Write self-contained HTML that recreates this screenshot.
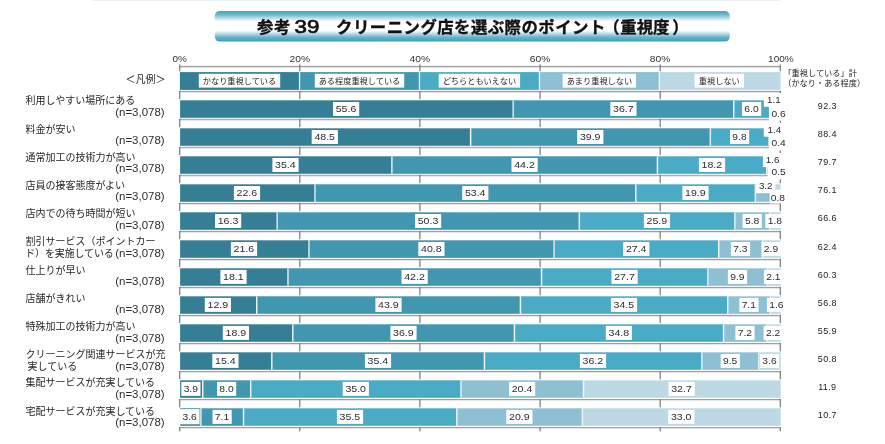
<!DOCTYPE html>
<html lang="ja"><head><meta charset="utf-8"><title>参考39 クリーニング店を選ぶ際のポイント（重視度）</title>
<style>html,body{margin:0;padding:0;background:#fff}body{width:885px;height:444px;overflow:hidden}svg{display:block}text{font-family:'Liberation Sans', 'Noto Sans CJK JP', sans-serif;fill:#222}.lab{font-size:10px;font-weight:400;fill:#262626}.n{font-size:10px;font-weight:400;fill:#2c2c2c}.v{font-size:9.8px;font-weight:400;fill:#2a2a33}.ax{font-size:9.6px;fill:#333}.lg{font-size:8.2px;font-weight:400;fill:#222}.tt{font-size:9px;letter-spacing:.35px;fill:#222}.ti{font-size:16.4px;font-weight:700;fill:#111;stroke:#111;stroke-width:.35px}</style></head><body>
<svg width="885" height="444" viewBox="0 0 885 444">
<defs><linearGradient id="tg" x1="0" y1="0" x2="0" y2="1"><stop offset="0" stop-color="#3fa3bd"/><stop offset="0.12" stop-color="#6bb9cd"/><stop offset="0.34" stop-color="#ffffff"/><stop offset="0.64" stop-color="#ffffff"/><stop offset="0.86" stop-color="#62b4ca"/><stop offset="1" stop-color="#3a9fba"/></linearGradient><pattern id="dots" width="4" height="8" patternUnits="userSpaceOnUse"><rect width="4" height="8" fill="#bcd9e5"/><rect x="1" y="2" width="1" height="1" fill="#b4d3e0"/><rect x="3" y="6" width="1" height="1" fill="#b4d3e0"/></pattern></defs>
<rect width="885" height="444" fill="#fff"/>
<rect x="92" y="0" width="688.3" height="1" fill="#ebeef2"/>
<rect x="214.8" y="11" width="515" height="30.6" rx="5" ry="5" fill="url(#tg)"/>
<text class="ti" x="257.1 273.9" y="32.8">参考</text>
<text class="ti" x="294.6" y="33" style="font-size:17.5px;font-weight:400;stroke-width:.7px" textLength="24.8" lengthAdjust="spacingAndGlyphs">39</text>
<text class="ti" x="336.1 353.0 369.8 386.7 403.5 420.4 437.2 454.1 470.9 487.8 504.6 521.5 538.3 555.2 572.0 588.9 603.3 620.3 636.7 653.1 672.3" y="32.8">クリーニング店を選ぶ際のポイント（重視度）</text>
<text class="ax" x="179.7" y="61.9" text-anchor="middle" textLength="14.4" lengthAdjust="spacingAndGlyphs">0%</text>
<text class="ax" x="299.8" y="61.9" text-anchor="middle" textLength="20.6" lengthAdjust="spacingAndGlyphs">20%</text>
<text class="ax" x="419.9" y="61.9" text-anchor="middle" textLength="20.6" lengthAdjust="spacingAndGlyphs">40%</text>
<text class="ax" x="540.0" y="61.9" text-anchor="middle" textLength="20.6" lengthAdjust="spacingAndGlyphs">60%</text>
<text class="ax" x="660.1" y="61.9" text-anchor="middle" textLength="20.6" lengthAdjust="spacingAndGlyphs">80%</text>
<text class="ax" x="780.9" y="61.9" text-anchor="middle" textLength="25.6" lengthAdjust="spacingAndGlyphs">100%</text>
<rect x="179.1" y="65.9" width="601.8" height="1.1" fill="#9e9e9e"/>
<rect x="179.1" y="67.0" width="601.8" height="0.9" fill="#e4e4e4"/>
<rect x="179.1" y="64.4" width="1.2" height="6.8" fill="#787878"/>
<rect x="299.2" y="64.4" width="1.2" height="6.8" fill="#787878"/>
<rect x="419.3" y="64.4" width="1.2" height="6.8" fill="#787878"/>
<rect x="539.5" y="64.4" width="1.2" height="6.8" fill="#787878"/>
<rect x="659.6" y="64.4" width="1.2" height="6.8" fill="#787878"/>
<rect x="779.7" y="64.4" width="1.2" height="6.8" fill="#787878"/>
<rect x="179.1" y="90.9" width="601.8" height="1.1" fill="#9e9e9e"/>
<rect x="179.1" y="92.0" width="601.8" height="0.9" fill="#e4e4e4"/>
<rect x="179.1" y="90.9" width="1.2" height="8.3" fill="#787878"/>
<rect x="299.2" y="90.9" width="1.2" height="8.3" fill="#787878"/>
<rect x="419.3" y="90.9" width="1.2" height="8.3" fill="#787878"/>
<rect x="539.5" y="90.9" width="1.2" height="8.3" fill="#787878"/>
<rect x="659.6" y="90.9" width="1.2" height="8.3" fill="#787878"/>
<rect x="779.7" y="90.9" width="1.2" height="8.3" fill="#787878"/>
<rect x="179.1" y="118.8" width="601.8" height="1.1" fill="#9e9e9e"/>
<rect x="179.1" y="119.9" width="601.8" height="0.9" fill="#e4e4e4"/>
<rect x="179.1" y="118.8" width="1.2" height="8.3" fill="#787878"/>
<rect x="299.2" y="118.8" width="1.2" height="8.3" fill="#787878"/>
<rect x="419.3" y="118.8" width="1.2" height="8.3" fill="#787878"/>
<rect x="539.5" y="118.8" width="1.2" height="8.3" fill="#787878"/>
<rect x="659.6" y="118.8" width="1.2" height="8.3" fill="#787878"/>
<rect x="779.7" y="118.8" width="1.2" height="8.3" fill="#787878"/>
<rect x="179.1" y="146.8" width="601.8" height="1.1" fill="#9e9e9e"/>
<rect x="179.1" y="147.9" width="601.8" height="0.9" fill="#e4e4e4"/>
<rect x="179.1" y="146.8" width="1.2" height="8.3" fill="#787878"/>
<rect x="299.2" y="146.8" width="1.2" height="8.3" fill="#787878"/>
<rect x="419.3" y="146.8" width="1.2" height="8.3" fill="#787878"/>
<rect x="539.5" y="146.8" width="1.2" height="8.3" fill="#787878"/>
<rect x="659.6" y="146.8" width="1.2" height="8.3" fill="#787878"/>
<rect x="779.7" y="146.8" width="1.2" height="8.3" fill="#787878"/>
<rect x="179.1" y="174.8" width="601.8" height="1.1" fill="#9e9e9e"/>
<rect x="179.1" y="175.9" width="601.8" height="0.9" fill="#e4e4e4"/>
<rect x="179.1" y="174.8" width="1.2" height="8.3" fill="#787878"/>
<rect x="299.2" y="174.8" width="1.2" height="8.3" fill="#787878"/>
<rect x="419.3" y="174.8" width="1.2" height="8.3" fill="#787878"/>
<rect x="539.5" y="174.8" width="1.2" height="8.3" fill="#787878"/>
<rect x="659.6" y="174.8" width="1.2" height="8.3" fill="#787878"/>
<rect x="779.7" y="174.8" width="1.2" height="8.3" fill="#787878"/>
<rect x="179.1" y="202.9" width="601.8" height="1.1" fill="#9e9e9e"/>
<rect x="179.1" y="204.0" width="601.8" height="0.9" fill="#e4e4e4"/>
<rect x="179.1" y="202.9" width="1.2" height="8.3" fill="#787878"/>
<rect x="299.2" y="202.9" width="1.2" height="8.3" fill="#787878"/>
<rect x="419.3" y="202.9" width="1.2" height="8.3" fill="#787878"/>
<rect x="539.5" y="202.9" width="1.2" height="8.3" fill="#787878"/>
<rect x="659.6" y="202.9" width="1.2" height="8.3" fill="#787878"/>
<rect x="779.7" y="202.9" width="1.2" height="8.3" fill="#787878"/>
<rect x="179.1" y="230.9" width="601.8" height="1.1" fill="#9e9e9e"/>
<rect x="179.1" y="232.0" width="601.8" height="0.9" fill="#e4e4e4"/>
<rect x="179.1" y="230.9" width="1.2" height="8.3" fill="#787878"/>
<rect x="299.2" y="230.9" width="1.2" height="8.3" fill="#787878"/>
<rect x="419.3" y="230.9" width="1.2" height="8.3" fill="#787878"/>
<rect x="539.5" y="230.9" width="1.2" height="8.3" fill="#787878"/>
<rect x="659.6" y="230.9" width="1.2" height="8.3" fill="#787878"/>
<rect x="779.7" y="230.9" width="1.2" height="8.3" fill="#787878"/>
<rect x="179.1" y="258.9" width="601.8" height="1.1" fill="#9e9e9e"/>
<rect x="179.1" y="260.0" width="601.8" height="0.9" fill="#e4e4e4"/>
<rect x="179.1" y="258.9" width="1.2" height="8.3" fill="#787878"/>
<rect x="299.2" y="258.9" width="1.2" height="8.3" fill="#787878"/>
<rect x="419.3" y="258.9" width="1.2" height="8.3" fill="#787878"/>
<rect x="539.5" y="258.9" width="1.2" height="8.3" fill="#787878"/>
<rect x="659.6" y="258.9" width="1.2" height="8.3" fill="#787878"/>
<rect x="779.7" y="258.9" width="1.2" height="8.3" fill="#787878"/>
<rect x="179.1" y="286.9" width="601.8" height="1.1" fill="#9e9e9e"/>
<rect x="179.1" y="288.0" width="601.8" height="0.9" fill="#e4e4e4"/>
<rect x="179.1" y="286.9" width="1.2" height="8.3" fill="#787878"/>
<rect x="299.2" y="286.9" width="1.2" height="8.3" fill="#787878"/>
<rect x="419.3" y="286.9" width="1.2" height="8.3" fill="#787878"/>
<rect x="539.5" y="286.9" width="1.2" height="8.3" fill="#787878"/>
<rect x="659.6" y="286.9" width="1.2" height="8.3" fill="#787878"/>
<rect x="779.7" y="286.9" width="1.2" height="8.3" fill="#787878"/>
<rect x="179.1" y="314.9" width="601.8" height="1.1" fill="#9e9e9e"/>
<rect x="179.1" y="316.0" width="601.8" height="0.9" fill="#e4e4e4"/>
<rect x="179.1" y="314.9" width="1.2" height="8.3" fill="#787878"/>
<rect x="299.2" y="314.9" width="1.2" height="8.3" fill="#787878"/>
<rect x="419.3" y="314.9" width="1.2" height="8.3" fill="#787878"/>
<rect x="539.5" y="314.9" width="1.2" height="8.3" fill="#787878"/>
<rect x="659.6" y="314.9" width="1.2" height="8.3" fill="#787878"/>
<rect x="779.7" y="314.9" width="1.2" height="8.3" fill="#787878"/>
<rect x="179.1" y="343.0" width="601.8" height="1.1" fill="#9e9e9e"/>
<rect x="179.1" y="344.1" width="601.8" height="0.9" fill="#e4e4e4"/>
<rect x="179.1" y="343.0" width="1.2" height="8.3" fill="#787878"/>
<rect x="299.2" y="343.0" width="1.2" height="8.3" fill="#787878"/>
<rect x="419.3" y="343.0" width="1.2" height="8.3" fill="#787878"/>
<rect x="539.5" y="343.0" width="1.2" height="8.3" fill="#787878"/>
<rect x="659.6" y="343.0" width="1.2" height="8.3" fill="#787878"/>
<rect x="779.7" y="343.0" width="1.2" height="8.3" fill="#787878"/>
<rect x="179.1" y="371.0" width="601.8" height="1.1" fill="#9e9e9e"/>
<rect x="179.1" y="372.1" width="601.8" height="0.9" fill="#e4e4e4"/>
<rect x="179.1" y="371.0" width="1.2" height="8.3" fill="#787878"/>
<rect x="299.2" y="371.0" width="1.2" height="8.3" fill="#787878"/>
<rect x="419.3" y="371.0" width="1.2" height="8.3" fill="#787878"/>
<rect x="539.5" y="371.0" width="1.2" height="8.3" fill="#787878"/>
<rect x="659.6" y="371.0" width="1.2" height="8.3" fill="#787878"/>
<rect x="779.7" y="371.0" width="1.2" height="8.3" fill="#787878"/>
<rect x="179.1" y="399.0" width="601.8" height="1.1" fill="#9e9e9e"/>
<rect x="179.1" y="400.1" width="601.8" height="0.9" fill="#e4e4e4"/>
<rect x="179.1" y="399.0" width="1.2" height="8.3" fill="#787878"/>
<rect x="299.2" y="399.0" width="1.2" height="8.3" fill="#787878"/>
<rect x="419.3" y="399.0" width="1.2" height="8.3" fill="#787878"/>
<rect x="539.5" y="399.0" width="1.2" height="8.3" fill="#787878"/>
<rect x="659.6" y="399.0" width="1.2" height="8.3" fill="#787878"/>
<rect x="779.7" y="399.0" width="1.2" height="8.3" fill="#787878"/>
<rect x="179.1" y="427.0" width="601.8" height="1.1" fill="#9e9e9e"/>
<rect x="179.1" y="428.1" width="601.8" height="0.9" fill="#e4e4e4"/>
<rect x="179.1" y="427.0" width="1.2" height="4.3" fill="#787878"/>
<rect x="299.2" y="427.0" width="1.2" height="4.3" fill="#787878"/>
<rect x="419.3" y="427.0" width="1.2" height="4.3" fill="#787878"/>
<rect x="539.5" y="427.0" width="1.2" height="4.3" fill="#787878"/>
<rect x="659.6" y="427.0" width="1.2" height="4.3" fill="#787878"/>
<rect x="779.7" y="427.0" width="1.2" height="4.3" fill="#787878"/>
<text class="lab" x="165.6" y="82.6" text-anchor="end">＜凡例＞</text>
<rect x="179.9" y="72.1" width="120.9" height="17.8" fill="#357f96"/>
<rect x="198.8" y="73.8" width="81.4" height="13.8" fill="#fff"/>
<text class="lg" x="239.5" y="83.7" text-anchor="middle">かなり重視している</text>
<rect x="299.9" y="72.1" width="120.9" height="17.8" fill="#4196b0"/>
<rect x="298.9" y="72.1" width="1.3" height="17.8" fill="#f1f8fa"/>
<rect x="314.8" y="73.8" width="89.4" height="13.8" fill="#fff"/>
<text class="lg" x="359.5" y="83.7" text-anchor="middle">ある程度重視している</text>
<rect x="419.8" y="72.1" width="120.9" height="17.8" fill="#4aabc7"/>
<rect x="418.8" y="72.1" width="1.3" height="17.8" fill="#f1f8fa"/>
<rect x="438.7" y="73.8" width="81.4" height="13.8" fill="#fff"/>
<text class="lg" x="479.4" y="83.7" text-anchor="middle">どちらともいえない</text>
<rect x="539.8" y="72.1" width="120.9" height="17.8" fill="#8ec0d4"/>
<rect x="538.8" y="72.1" width="1.3" height="17.8" fill="#f1f8fa"/>
<rect x="562.6" y="73.8" width="73.4" height="13.8" fill="#fff"/>
<text class="lg" x="599.4" y="83.7" text-anchor="middle">あまり重視しない</text>
<rect x="659.7" y="72.1" width="120.9" height="17.8" fill="url(#dots)"/>
<rect x="658.7" y="72.1" width="1.3" height="17.8" fill="#f1f8fa"/>
<rect x="694.6" y="73.8" width="49.4" height="13.8" fill="#fff"/>
<text class="lg" x="719.3" y="83.7" text-anchor="middle">重視しない</text>
<text class="lg" x="783.4" y="76.2">「重視している」計</text>
<text class="lg" x="783.2" y="86.1">（かなり・ある程度）</text>
<text class="lab" x="25.4" y="104.3">利用しやすい場所にある</text>
<text class="n" x="164.6" y="115.8" text-anchor="end" textLength="49.4" lengthAdjust="spacingAndGlyphs">(n=3,078)</text>
<rect x="180.1" y="100.3" width="334.0" height="17.5" fill="#357f96"/>
<rect x="514.0" y="100.3" width="220.5" height="17.5" fill="#4196b0"/>
<rect x="734.5" y="100.3" width="36.0" height="17.5" fill="#4aabc7"/>
<rect x="770.5" y="100.3" width="6.6" height="17.5" fill="#8ec0d4"/>
<rect x="777.1" y="100.3" width="3.6" height="17.5" fill="url(#dots)"/>
<rect x="512.5" y="100.3" width="1.3" height="17.5" fill="#f1f8fa"/>
<rect x="733.0" y="100.3" width="1.3" height="17.5" fill="#f1f8fa"/>
<rect x="769.0" y="100.3" width="1.3" height="17.5" fill="#f1f8fa"/>
<rect x="775.6" y="100.3" width="1.3" height="17.5" fill="#f1f8fa"/>
<rect x="333.0" y="102.0" width="26.2" height="14.0" fill="#fff"/>
<text class="v" x="346.0" y="112.1" text-anchor="middle" textLength="20.6" lengthAdjust="spacingAndGlyphs">55.6</text>
<rect x="610.3" y="102.0" width="26.2" height="14.0" fill="#fff"/>
<text class="v" x="623.3" y="112.1" text-anchor="middle" textLength="20.6" lengthAdjust="spacingAndGlyphs">36.7</text>
<rect x="742.0" y="102.0" width="19.2" height="14.0" fill="#fff"/>
<text class="v" x="751.5" y="112.1" text-anchor="middle" textLength="14.3" lengthAdjust="spacingAndGlyphs">6.0</text>
<rect x="768.9" y="105.4" width="20.1" height="15.2" fill="#fff"/>
<rect x="763.9" y="93.0" width="19.1" height="13.8" fill="#fff"/>
<text class="v" x="767.0" y="103.1" textLength="13.6" lengthAdjust="spacingAndGlyphs">1.1</text>
<text class="v" x="771.4" y="117.0" textLength="14.2" lengthAdjust="spacingAndGlyphs">0.6</text>
<text class="tt" x="827.3" y="109.0" text-anchor="middle">92.3</text>
<text class="lab" x="25.4" y="132.5">料金が安い</text>
<text class="n" x="164.6" y="144.0" text-anchor="end" textLength="49.4" lengthAdjust="spacingAndGlyphs">(n=3,078)</text>
<rect x="180.1" y="128.3" width="291.3" height="17.5" fill="#357f96"/>
<rect x="471.4" y="128.3" width="239.7" height="17.5" fill="#4196b0"/>
<rect x="711.1" y="128.3" width="58.9" height="17.5" fill="#4aabc7"/>
<rect x="769.9" y="128.3" width="8.4" height="17.5" fill="#8ec0d4"/>
<rect x="778.3" y="128.3" width="2.4" height="17.5" fill="url(#dots)"/>
<rect x="469.9" y="128.3" width="1.3" height="17.5" fill="#f1f8fa"/>
<rect x="709.6" y="128.3" width="1.3" height="17.5" fill="#f1f8fa"/>
<rect x="768.4" y="128.3" width="1.3" height="17.5" fill="#f1f8fa"/>
<rect x="776.8" y="128.3" width="1.3" height="17.5" fill="#f1f8fa"/>
<rect x="311.7" y="130.0" width="26.2" height="14.0" fill="#fff"/>
<text class="v" x="324.7" y="140.2" text-anchor="middle" textLength="20.6" lengthAdjust="spacingAndGlyphs">48.5</text>
<rect x="577.2" y="130.0" width="26.2" height="14.0" fill="#fff"/>
<text class="v" x="590.2" y="140.2" text-anchor="middle" textLength="20.6" lengthAdjust="spacingAndGlyphs">39.9</text>
<rect x="730.0" y="130.0" width="19.2" height="14.0" fill="#fff"/>
<text class="v" x="739.5" y="140.2" text-anchor="middle" textLength="14.3" lengthAdjust="spacingAndGlyphs">9.8</text>
<rect x="768.9" y="135.3" width="20.1" height="15.1" fill="#fff"/>
<rect x="763.8" y="123.0" width="19.2" height="13.7" fill="#fff"/>
<text class="v" x="767.5" y="133.1" textLength="13.6" lengthAdjust="spacingAndGlyphs">1.4</text>
<text class="v" x="771.6" y="146.0" textLength="14.2" lengthAdjust="spacingAndGlyphs">0.4</text>
<text class="tt" x="827.3" y="137.1" text-anchor="middle">88.4</text>
<text class="lab" x="25.4" y="160.7">通常加工の技術力が高い</text>
<text class="n" x="164.6" y="172.2" text-anchor="end" textLength="49.4" lengthAdjust="spacingAndGlyphs">(n=3,078)</text>
<rect x="180.1" y="156.3" width="212.6" height="17.5" fill="#357f96"/>
<rect x="392.7" y="156.3" width="265.5" height="17.5" fill="#4196b0"/>
<rect x="658.2" y="156.3" width="109.3" height="17.5" fill="#4aabc7"/>
<rect x="767.5" y="156.3" width="9.6" height="17.5" fill="#8ec0d4"/>
<rect x="777.1" y="156.3" width="3.6" height="17.5" fill="url(#dots)"/>
<rect x="391.2" y="156.3" width="1.3" height="17.5" fill="#f1f8fa"/>
<rect x="656.7" y="156.3" width="1.3" height="17.5" fill="#f1f8fa"/>
<rect x="766.0" y="156.3" width="1.3" height="17.5" fill="#f1f8fa"/>
<rect x="775.6" y="156.3" width="1.3" height="17.5" fill="#f1f8fa"/>
<rect x="272.4" y="158.0" width="26.2" height="14.0" fill="#fff"/>
<text class="v" x="285.4" y="168.2" text-anchor="middle" textLength="20.6" lengthAdjust="spacingAndGlyphs">35.4</text>
<rect x="511.5" y="158.0" width="26.2" height="14.0" fill="#fff"/>
<text class="v" x="524.5" y="168.2" text-anchor="middle" textLength="20.6" lengthAdjust="spacingAndGlyphs">44.2</text>
<rect x="698.9" y="158.0" width="26.2" height="14.0" fill="#fff"/>
<text class="v" x="711.9" y="168.2" text-anchor="middle" textLength="20.6" lengthAdjust="spacingAndGlyphs">18.2</text>
<rect x="767.6" y="165.7" width="21.4" height="13.7" fill="#fff"/>
<rect x="762.9" y="153.0" width="20.1" height="14.1" fill="#fff"/>
<text class="v" x="765.8" y="163.2" textLength="13.6" lengthAdjust="spacingAndGlyphs">1.6</text>
<text class="v" x="771.6" y="174.9" textLength="14.2" lengthAdjust="spacingAndGlyphs">0.5</text>
<text class="tt" x="827.3" y="165.2" text-anchor="middle">79.7</text>
<text class="lab" x="25.4" y="188.9">店員の接客態度がよい</text>
<text class="n" x="164.6" y="200.4" text-anchor="end" textLength="49.4" lengthAdjust="spacingAndGlyphs">(n=3,078)</text>
<rect x="180.1" y="184.3" width="135.8" height="17.5" fill="#357f96"/>
<rect x="315.8" y="184.3" width="320.8" height="17.5" fill="#4196b0"/>
<rect x="636.6" y="184.3" width="119.5" height="17.5" fill="#4aabc7"/>
<rect x="756.1" y="184.3" width="19.2" height="17.5" fill="#8ec0d4"/>
<rect x="775.3" y="184.3" width="5.4" height="17.5" fill="url(#dots)"/>
<rect x="314.3" y="184.3" width="1.3" height="17.5" fill="#f1f8fa"/>
<rect x="635.1" y="184.3" width="1.3" height="17.5" fill="#f1f8fa"/>
<rect x="754.6" y="184.3" width="1.3" height="17.5" fill="#f1f8fa"/>
<rect x="773.8" y="184.3" width="1.3" height="17.5" fill="#f1f8fa"/>
<rect x="233.9" y="186.0" width="26.2" height="14.0" fill="#fff"/>
<text class="v" x="246.9" y="196.2" text-anchor="middle" textLength="20.6" lengthAdjust="spacingAndGlyphs">22.6</text>
<rect x="462.2" y="186.0" width="26.2" height="14.0" fill="#fff"/>
<text class="v" x="475.2" y="196.2" text-anchor="middle" textLength="20.6" lengthAdjust="spacingAndGlyphs">53.4</text>
<rect x="682.4" y="186.0" width="26.2" height="14.0" fill="#fff"/>
<text class="v" x="695.4" y="196.2" text-anchor="middle" textLength="20.6" lengthAdjust="spacingAndGlyphs">19.9</text>
<rect x="769.7" y="189.5" width="19.3" height="14.0" fill="#fff"/>
<rect x="756.0" y="179.6" width="19.3" height="13.6" fill="#fff"/>
<text class="v" x="758.9" y="189.3" textLength="13.6" lengthAdjust="spacingAndGlyphs">3.2</text>
<text class="v" x="770.8" y="200.6" textLength="14.2" lengthAdjust="spacingAndGlyphs">0.8</text>
<text class="tt" x="827.3" y="193.3" text-anchor="middle">76.1</text>
<text class="lab" x="25.4" y="217.1">店内での待ち時間が短い</text>
<text class="n" x="164.6" y="228.6" text-anchor="end" textLength="49.4" lengthAdjust="spacingAndGlyphs">(n=3,078)</text>
<rect x="180.1" y="212.3" width="97.9" height="17.5" fill="#357f96"/>
<rect x="278.0" y="212.3" width="302.2" height="17.5" fill="#4196b0"/>
<rect x="580.1" y="212.3" width="155.6" height="17.5" fill="#4aabc7"/>
<rect x="735.7" y="212.3" width="34.8" height="17.5" fill="#8ec0d4"/>
<rect x="770.5" y="212.3" width="10.2" height="17.5" fill="url(#dots)"/>
<rect x="276.5" y="212.3" width="1.3" height="17.5" fill="#f1f8fa"/>
<rect x="578.6" y="212.3" width="1.3" height="17.5" fill="#f1f8fa"/>
<rect x="734.2" y="212.3" width="1.3" height="17.5" fill="#f1f8fa"/>
<rect x="769.0" y="212.3" width="1.3" height="17.5" fill="#f1f8fa"/>
<rect x="215.0" y="214.0" width="26.2" height="14.0" fill="#fff"/>
<text class="v" x="228.0" y="224.2" text-anchor="middle" textLength="20.6" lengthAdjust="spacingAndGlyphs">16.3</text>
<rect x="415.0" y="214.0" width="26.2" height="14.0" fill="#fff"/>
<text class="v" x="428.0" y="224.2" text-anchor="middle" textLength="20.6" lengthAdjust="spacingAndGlyphs">50.3</text>
<rect x="643.9" y="214.0" width="26.2" height="14.0" fill="#fff"/>
<text class="v" x="656.9" y="224.2" text-anchor="middle" textLength="20.6" lengthAdjust="spacingAndGlyphs">25.9</text>
<rect x="742.6" y="214.0" width="19.2" height="14.0" fill="#fff"/>
<text class="v" x="752.1" y="224.2" text-anchor="middle" textLength="14.3" lengthAdjust="spacingAndGlyphs">5.8</text>
<rect x="765.4" y="214.0" width="19.2" height="14.0" fill="#fff"/>
<text class="v" x="774.9" y="224.2" text-anchor="middle" textLength="14.3" lengthAdjust="spacingAndGlyphs">1.8</text>
<text class="tt" x="827.3" y="221.4" text-anchor="middle">66.6</text>
<text class="lab" x="25.4" y="245.4">割引サービス（ポイントカー</text>
<text class="lab" x="25.2" y="257.2" textLength="88.6" lengthAdjust="spacing">ド）を実施している</text>
<text class="n" x="164.6" y="256.9" text-anchor="end" textLength="49.4" lengthAdjust="spacingAndGlyphs">(n=3,078)</text>
<rect x="180.1" y="240.3" width="129.8" height="17.5" fill="#357f96"/>
<rect x="309.8" y="240.3" width="245.1" height="17.5" fill="#4196b0"/>
<rect x="554.9" y="240.3" width="164.6" height="17.5" fill="#4aabc7"/>
<rect x="719.5" y="240.3" width="43.9" height="17.5" fill="#8ec0d4"/>
<rect x="763.3" y="240.3" width="17.4" height="17.5" fill="url(#dots)"/>
<rect x="308.3" y="240.3" width="1.3" height="17.5" fill="#f1f8fa"/>
<rect x="553.4" y="240.3" width="1.3" height="17.5" fill="#f1f8fa"/>
<rect x="718.0" y="240.3" width="1.3" height="17.5" fill="#f1f8fa"/>
<rect x="761.8" y="240.3" width="1.3" height="17.5" fill="#f1f8fa"/>
<rect x="230.9" y="242.0" width="26.2" height="14.0" fill="#fff"/>
<text class="v" x="243.9" y="252.2" text-anchor="middle" textLength="20.6" lengthAdjust="spacingAndGlyphs">21.6</text>
<rect x="418.3" y="242.0" width="26.2" height="14.0" fill="#fff"/>
<text class="v" x="431.3" y="252.2" text-anchor="middle" textLength="20.6" lengthAdjust="spacingAndGlyphs">40.8</text>
<rect x="623.2" y="242.0" width="26.2" height="14.0" fill="#fff"/>
<text class="v" x="636.2" y="252.2" text-anchor="middle" textLength="20.6" lengthAdjust="spacingAndGlyphs">27.4</text>
<rect x="730.9" y="242.0" width="19.2" height="14.0" fill="#fff"/>
<text class="v" x="740.4" y="252.2" text-anchor="middle" textLength="14.3" lengthAdjust="spacingAndGlyphs">7.3</text>
<rect x="761.5" y="242.0" width="19.2" height="14.0" fill="#fff"/>
<text class="v" x="771.0" y="252.2" text-anchor="middle" textLength="14.3" lengthAdjust="spacingAndGlyphs">2.9</text>
<text class="tt" x="827.3" y="249.5" text-anchor="middle">62.4</text>
<text class="lab" x="25.4" y="273.6">仕上りが早い</text>
<text class="n" x="164.6" y="285.1" text-anchor="end" textLength="49.4" lengthAdjust="spacingAndGlyphs">(n=3,078)</text>
<rect x="180.1" y="268.3" width="108.7" height="17.5" fill="#357f96"/>
<rect x="288.8" y="268.3" width="253.5" height="17.5" fill="#4196b0"/>
<rect x="542.3" y="268.3" width="166.4" height="17.5" fill="#4aabc7"/>
<rect x="708.7" y="268.3" width="59.5" height="17.5" fill="#8ec0d4"/>
<rect x="768.1" y="268.3" width="12.6" height="17.5" fill="url(#dots)"/>
<rect x="287.3" y="268.3" width="1.3" height="17.5" fill="#f1f8fa"/>
<rect x="540.8" y="268.3" width="1.3" height="17.5" fill="#f1f8fa"/>
<rect x="707.2" y="268.3" width="1.3" height="17.5" fill="#f1f8fa"/>
<rect x="766.6" y="268.3" width="1.3" height="17.5" fill="#f1f8fa"/>
<rect x="220.4" y="269.9" width="26.2" height="14.0" fill="#fff"/>
<text class="v" x="233.4" y="280.2" text-anchor="middle" textLength="20.6" lengthAdjust="spacingAndGlyphs">18.1</text>
<rect x="401.5" y="269.9" width="26.2" height="14.0" fill="#fff"/>
<text class="v" x="414.5" y="280.2" text-anchor="middle" textLength="20.6" lengthAdjust="spacingAndGlyphs">42.2</text>
<rect x="611.5" y="269.9" width="26.2" height="14.0" fill="#fff"/>
<text class="v" x="624.5" y="280.2" text-anchor="middle" textLength="20.6" lengthAdjust="spacingAndGlyphs">27.7</text>
<rect x="727.9" y="269.9" width="19.2" height="14.0" fill="#fff"/>
<text class="v" x="737.4" y="280.2" text-anchor="middle" textLength="14.3" lengthAdjust="spacingAndGlyphs">9.9</text>
<rect x="763.9" y="269.9" width="19.2" height="14.0" fill="#fff"/>
<text class="v" x="773.4" y="280.2" text-anchor="middle" textLength="14.3" lengthAdjust="spacingAndGlyphs">2.1</text>
<text class="tt" x="827.3" y="277.6" text-anchor="middle">60.3</text>
<text class="lab" x="25.4" y="301.8">店舗がきれい</text>
<text class="n" x="164.6" y="313.3" text-anchor="end" textLength="49.4" lengthAdjust="spacingAndGlyphs">(n=3,078)</text>
<rect x="180.1" y="296.3" width="77.5" height="17.5" fill="#357f96"/>
<rect x="257.5" y="296.3" width="263.7" height="17.5" fill="#4196b0"/>
<rect x="521.2" y="296.3" width="207.2" height="17.5" fill="#4aabc7"/>
<rect x="728.5" y="296.3" width="42.6" height="17.5" fill="#8ec0d4"/>
<rect x="771.1" y="296.3" width="9.6" height="17.5" fill="url(#dots)"/>
<rect x="256.0" y="296.3" width="1.3" height="17.5" fill="#f1f8fa"/>
<rect x="519.7" y="296.3" width="1.3" height="17.5" fill="#f1f8fa"/>
<rect x="727.0" y="296.3" width="1.3" height="17.5" fill="#f1f8fa"/>
<rect x="769.6" y="296.3" width="1.3" height="17.5" fill="#f1f8fa"/>
<rect x="204.8" y="297.9" width="26.2" height="14.0" fill="#fff"/>
<text class="v" x="217.8" y="308.2" text-anchor="middle" textLength="20.6" lengthAdjust="spacingAndGlyphs">12.9</text>
<rect x="375.4" y="297.9" width="26.2" height="14.0" fill="#fff"/>
<text class="v" x="388.4" y="308.2" text-anchor="middle" textLength="20.6" lengthAdjust="spacingAndGlyphs">43.9</text>
<rect x="610.9" y="297.9" width="26.2" height="14.0" fill="#fff"/>
<text class="v" x="623.9" y="308.2" text-anchor="middle" textLength="20.6" lengthAdjust="spacingAndGlyphs">34.5</text>
<rect x="739.3" y="297.9" width="19.2" height="14.0" fill="#fff"/>
<text class="v" x="748.8" y="308.2" text-anchor="middle" textLength="14.3" lengthAdjust="spacingAndGlyphs">7.1</text>
<rect x="766.9" y="297.9" width="19.2" height="14.0" fill="#fff"/>
<text class="v" x="776.4" y="308.2" text-anchor="middle" textLength="14.3" lengthAdjust="spacingAndGlyphs">1.6</text>
<text class="tt" x="827.3" y="305.7" text-anchor="middle">56.8</text>
<text class="lab" x="25.4" y="330.0">特殊加工の技術力が高い</text>
<text class="n" x="164.6" y="341.5" text-anchor="end" textLength="49.4" lengthAdjust="spacingAndGlyphs">(n=3,078)</text>
<rect x="180.1" y="324.3" width="113.5" height="17.5" fill="#357f96"/>
<rect x="293.6" y="324.3" width="221.7" height="17.5" fill="#4196b0"/>
<rect x="515.2" y="324.3" width="209.0" height="17.5" fill="#4aabc7"/>
<rect x="724.3" y="324.3" width="43.3" height="17.5" fill="#8ec0d4"/>
<rect x="767.5" y="324.3" width="13.2" height="17.5" fill="url(#dots)"/>
<rect x="292.1" y="324.3" width="1.3" height="17.5" fill="#f1f8fa"/>
<rect x="513.7" y="324.3" width="1.3" height="17.5" fill="#f1f8fa"/>
<rect x="722.8" y="324.3" width="1.3" height="17.5" fill="#f1f8fa"/>
<rect x="766.0" y="324.3" width="1.3" height="17.5" fill="#f1f8fa"/>
<rect x="222.8" y="325.9" width="26.2" height="14.0" fill="#fff"/>
<text class="v" x="235.8" y="336.2" text-anchor="middle" textLength="20.6" lengthAdjust="spacingAndGlyphs">18.9</text>
<rect x="390.4" y="325.9" width="26.2" height="14.0" fill="#fff"/>
<text class="v" x="403.4" y="336.2" text-anchor="middle" textLength="20.6" lengthAdjust="spacingAndGlyphs">36.9</text>
<rect x="605.8" y="325.9" width="26.2" height="14.0" fill="#fff"/>
<text class="v" x="618.8" y="336.2" text-anchor="middle" textLength="20.6" lengthAdjust="spacingAndGlyphs">34.8</text>
<rect x="735.4" y="325.9" width="19.2" height="14.0" fill="#fff"/>
<text class="v" x="744.9" y="336.2" text-anchor="middle" textLength="14.3" lengthAdjust="spacingAndGlyphs">7.2</text>
<rect x="763.6" y="325.9" width="19.2" height="14.0" fill="#fff"/>
<text class="v" x="773.1" y="336.2" text-anchor="middle" textLength="14.3" lengthAdjust="spacingAndGlyphs">2.2</text>
<text class="tt" x="827.3" y="333.8" text-anchor="middle">55.9</text>
<text class="lab" x="25.4" y="358.2">クリーニング関連サービスが充</text>
<text class="lab" x="27.6" y="370.0">実している</text>
<text class="n" x="164.6" y="369.7" text-anchor="end" textLength="49.4" lengthAdjust="spacingAndGlyphs">(n=3,078)</text>
<rect x="180.1" y="352.3" width="92.5" height="17.5" fill="#357f96"/>
<rect x="272.6" y="352.3" width="212.6" height="17.5" fill="#4196b0"/>
<rect x="485.2" y="352.3" width="217.5" height="17.5" fill="#4aabc7"/>
<rect x="702.7" y="352.3" width="57.1" height="17.5" fill="#8ec0d4"/>
<rect x="759.7" y="352.3" width="21.0" height="17.5" fill="url(#dots)"/>
<rect x="271.1" y="352.3" width="1.3" height="17.5" fill="#f1f8fa"/>
<rect x="483.7" y="352.3" width="1.3" height="17.5" fill="#f1f8fa"/>
<rect x="701.2" y="352.3" width="1.3" height="17.5" fill="#f1f8fa"/>
<rect x="758.2" y="352.3" width="1.3" height="17.5" fill="#f1f8fa"/>
<rect x="212.3" y="353.9" width="26.2" height="14.0" fill="#fff"/>
<text class="v" x="225.3" y="364.2" text-anchor="middle" textLength="20.6" lengthAdjust="spacingAndGlyphs">15.4</text>
<rect x="364.9" y="353.9" width="26.2" height="14.0" fill="#fff"/>
<text class="v" x="377.9" y="364.2" text-anchor="middle" textLength="20.6" lengthAdjust="spacingAndGlyphs">35.4</text>
<rect x="579.9" y="353.9" width="26.2" height="14.0" fill="#fff"/>
<text class="v" x="592.9" y="364.2" text-anchor="middle" textLength="20.6" lengthAdjust="spacingAndGlyphs">36.2</text>
<rect x="720.7" y="353.9" width="19.2" height="14.0" fill="#fff"/>
<text class="v" x="730.2" y="364.2" text-anchor="middle" textLength="14.3" lengthAdjust="spacingAndGlyphs">9.5</text>
<rect x="760.0" y="353.9" width="19.2" height="14.0" fill="#fff"/>
<text class="v" x="769.5" y="364.2" text-anchor="middle" textLength="14.3" lengthAdjust="spacingAndGlyphs">3.6</text>
<text class="tt" x="827.3" y="361.9" text-anchor="middle">50.8</text>
<text class="lab" x="25.4" y="386.4">集配サービスが充実している</text>
<text class="n" x="164.6" y="397.9" text-anchor="end" textLength="49.4" lengthAdjust="spacingAndGlyphs">(n=3,078)</text>
<rect x="180.1" y="380.3" width="23.4" height="17.5" fill="#357f96"/>
<rect x="203.5" y="380.3" width="48.1" height="17.5" fill="#4196b0"/>
<rect x="251.5" y="380.3" width="210.2" height="17.5" fill="#4aabc7"/>
<rect x="461.8" y="380.3" width="122.5" height="17.5" fill="#8ec0d4"/>
<rect x="584.3" y="380.3" width="196.4" height="17.5" fill="url(#dots)"/>
<rect x="202.0" y="380.3" width="1.3" height="17.5" fill="#f1f8fa"/>
<rect x="250.0" y="380.3" width="1.3" height="17.5" fill="#f1f8fa"/>
<rect x="460.3" y="380.3" width="1.3" height="17.5" fill="#f1f8fa"/>
<rect x="582.8" y="380.3" width="1.3" height="17.5" fill="#f1f8fa"/>
<rect x="181.3" y="381.9" width="19.2" height="14.0" fill="#fff"/>
<text class="v" x="190.8" y="392.2" text-anchor="middle" textLength="14.3" lengthAdjust="spacingAndGlyphs">3.9</text>
<rect x="217.0" y="381.9" width="19.2" height="14.0" fill="#fff"/>
<text class="v" x="226.5" y="392.2" text-anchor="middle" textLength="14.3" lengthAdjust="spacingAndGlyphs">8.0</text>
<rect x="342.7" y="381.9" width="26.2" height="14.0" fill="#fff"/>
<text class="v" x="355.7" y="392.2" text-anchor="middle" textLength="20.6" lengthAdjust="spacingAndGlyphs">35.0</text>
<rect x="509.0" y="381.9" width="26.2" height="14.0" fill="#fff"/>
<text class="v" x="522.0" y="392.2" text-anchor="middle" textLength="20.6" lengthAdjust="spacingAndGlyphs">20.4</text>
<rect x="668.5" y="381.9" width="26.2" height="14.0" fill="#fff"/>
<text class="v" x="681.5" y="392.2" text-anchor="middle" textLength="20.6" lengthAdjust="spacingAndGlyphs">32.7</text>
<text class="tt" x="827.3" y="390.0" text-anchor="middle">11.9</text>
<text class="lab" x="25.4" y="414.6">宅配サービスが充実している</text>
<text class="n" x="164.6" y="426.1" text-anchor="end" textLength="49.4" lengthAdjust="spacingAndGlyphs">(n=3,078)</text>
<rect x="180.1" y="408.3" width="21.6" height="17.5" fill="#357f96"/>
<rect x="201.7" y="408.3" width="42.6" height="17.5" fill="#4196b0"/>
<rect x="244.3" y="408.3" width="213.2" height="17.5" fill="#4aabc7"/>
<rect x="457.6" y="408.3" width="125.5" height="17.5" fill="#8ec0d4"/>
<rect x="583.1" y="408.3" width="197.6" height="17.5" fill="url(#dots)"/>
<rect x="200.2" y="408.3" width="1.3" height="17.5" fill="#f1f8fa"/>
<rect x="242.8" y="408.3" width="1.3" height="17.5" fill="#f1f8fa"/>
<rect x="456.1" y="408.3" width="1.3" height="17.5" fill="#f1f8fa"/>
<rect x="581.6" y="408.3" width="1.3" height="17.5" fill="#f1f8fa"/>
<rect x="179.9" y="409.1" width="19.7" height="15.2" fill="#fff"/>
<text class="v" x="189.6" y="420.2" text-anchor="middle" textLength="14.3" lengthAdjust="spacingAndGlyphs">3.6</text>
<rect x="212.5" y="409.9" width="19.2" height="14.0" fill="#fff"/>
<text class="v" x="222.0" y="420.2" text-anchor="middle" textLength="14.3" lengthAdjust="spacingAndGlyphs">7.1</text>
<rect x="336.9" y="409.9" width="26.2" height="14.0" fill="#fff"/>
<text class="v" x="349.9" y="420.2" text-anchor="middle" textLength="20.6" lengthAdjust="spacingAndGlyphs">35.5</text>
<rect x="506.3" y="409.9" width="26.2" height="14.0" fill="#fff"/>
<text class="v" x="519.3" y="420.2" text-anchor="middle" textLength="20.6" lengthAdjust="spacingAndGlyphs">20.9</text>
<rect x="668.2" y="409.9" width="26.2" height="14.0" fill="#fff"/>
<text class="v" x="681.2" y="420.2" text-anchor="middle" textLength="20.6" lengthAdjust="spacingAndGlyphs">33.0</text>
<text class="tt" x="827.3" y="418.1" text-anchor="middle">10.7</text>
</svg></body></html>
